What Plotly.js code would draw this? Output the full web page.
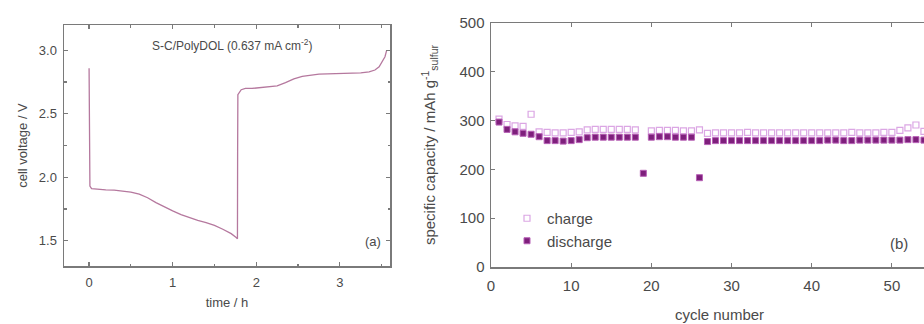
<!DOCTYPE html>
<html>
<head>
<meta charset="utf-8">
<script src="https://cdn.plot.ly/plotly-3.0.1.min.js"></script>
<style>
html,body{margin:0;padding:0;overflow:hidden;background:#fff;width:924px;height:324px;}
#chart{width:956px;height:324px;}
</style>
</head>
<body>
<div id="chart"></div>
<script>
// Panel (a): cell voltage vs time
const timeH = [0, 0.003, 0.006, 0.01, 0.03, 0.1, 0.2, 0.3, 0.4, 0.5, 0.6, 0.7, 0.8, 0.9, 1.0, 1.1, 1.2, 1.3, 1.4, 1.5, 1.6, 1.7, 1.76, 1.775, 1.777, 1.78, 1.82, 1.87, 1.95, 2.05, 2.15, 2.25, 2.35, 2.45, 2.55, 2.65, 2.75, 2.85, 2.95, 3.05, 3.15, 3.25, 3.35, 3.42, 3.47, 3.51, 3.54, 3.56];
const voltage = [2.86, 2.45, 2.1, 1.93, 1.91, 1.905, 1.90, 1.898, 1.892, 1.883, 1.866, 1.838, 1.80, 1.765, 1.735, 1.705, 1.68, 1.66, 1.642, 1.62, 1.59, 1.555, 1.525, 1.515, 2.2, 2.65, 2.69, 2.70, 2.70, 2.705, 2.71, 2.72, 2.745, 2.775, 2.795, 2.805, 2.812, 2.815, 2.817, 2.818, 2.82, 2.822, 2.83, 2.845, 2.87, 2.91, 2.95, 3.0];

// Panel (b): specific capacity vs cycle number
const cycles = [1,2,3,4,5,6,7,8,9,10,11,12,13,14,15,16,17,18,19,20,21,22,23,24,25,26,27,28,29,30,31,32,33,34,35,36,37,38,39,40,41,42,43,44,45,46,47,48,49,50,51,52,53,54];
const chargeCap = [303,292,289,288,313,277,276,275,275,276,277,281,282,282,282,282,282,281,null,279,280,280,280,279,279,281,274,275,275,275,275,276,275,275,275,275,275,275,275,275,275,275,275,275,276,275,275,275,276,276,280,285,291,278];
const dischargeCap = [297,282,277,274,272,267,259,259,258,259,261,265,266,266,266,266,266,266,192,266,267,267,266,266,266,183,257,259,259,259,259,259,259,259,259,259,259,259,259,259,259,260,260,259,259,260,260,260,260,260,260,261,261,260];

const textColor = '#4a4a4a';
const axisColor = '#7a7a7a';
const FONT = 'Liberation Sans, Arial, sans-serif';
const W = 956, H = 324;
const px = v => v / W;
const py = v => 1 - v / H;

const traces = [
  {x: timeH, y: voltage, type: 'scatter', mode: 'lines', xaxis: 'x', yaxis: 'y',
   line: {color: '#b5789e', width: 1.3}, showlegend: false, hoverinfo: 'skip'},
  {x: cycles, y: chargeCap, type: 'scatter', mode: 'markers', xaxis: 'x2', yaxis: 'y2', name: 'charge',
   marker: {symbol: 'square-open', size: 6, color: '#dba6e4', line: {width: 1.2, color: '#dba6e4'}}},
  {x: cycles, y: dischargeCap, type: 'scatter', mode: 'markers', xaxis: 'x2', yaxis: 'y2', name: 'discharge',
   marker: {symbol: 'square', size: 6, color: '#7e1f7c', line: {width: 1, color: '#b760b6'}}}
];

const axBase = {
  showline: true, linecolor: axisColor, linewidth: 1.5, mirror: 'ticks',
  ticks: 'inside', ticklen: 4, tickwidth: 1.2, tickcolor: axisColor,
  showgrid: false, zeroline: false,
  tickfont: {family: FONT, size: 13, color: textColor}
};

const layout = {
  width: W, height: H,
  margin: {l: 0, r: 0, t: 0, b: 0},
  paper_bgcolor: '#fff', plot_bgcolor: '#fff',
  font: {family: FONT, color: textColor},
  showlegend: true,
  legend: {x: px(507), y: py(202), xanchor: 'left', yanchor: 'top', bgcolor: 'rgba(0,0,0,0)',
           font: {family: FONT, size: 15, color: textColor}, tracegroupgap: 0, itemwidth: 30},
  xaxis: Object.assign({}, axBase, {
    domain: [px(64), px(390)], range: [-0.3, 3.6], anchor: 'y',
    tickvals: [0, 1, 2, 3], ticktext: ['0', '1', '2', '3'],
    minor: {dtick: 0.5, tick0: 0, ticks: 'inside', ticklen: 2.5, tickcolor: axisColor},
    ticklabelstandoff: 4,
    title: {text: 'time / h', font: {family: FONT, size: 13, color: textColor}, standoff: 9}
  }),
  yaxis: Object.assign({}, axBase, {
    domain: [py(266), py(25)], range: [1.3, 3.2], anchor: 'x',
    tickvals: [1.5, 2.0, 2.5, 3.0], ticktext: ['1.5', '2.0', '2.5', '3.0'],
    minor: {dtick: 0.25, tick0: 0, ticks: 'inside', ticklen: 2.5, tickcolor: axisColor},
    ticklabelstandoff: 3,
    title: {text: 'cell voltage / V', font: {family: FONT, size: 13, color: textColor}, standoff: 8}
  }),
  xaxis2: Object.assign({}, axBase, {
    domain: [px(491), px(948)], range: [0, 57], anchor: 'y2',
    tickvals: [0, 10, 20, 30, 40, 50],
    tickfont: {family: FONT, size: 15, color: textColor},
    ticklabelstandoff: 4,
    title: {text: 'cycle number', font: {family: FONT, size: 15, color: textColor}, standoff: 17}
  }),
  yaxis2: Object.assign({}, axBase, {
    domain: [py(267), py(23)], range: [0, 500], anchor: 'x2',
    tickvals: [0, 100, 200, 300, 400, 500],
    tickfont: {family: FONT, size: 15, color: textColor},
    ticklabelstandoff: 2,
    title: {text: 'specific capacity / mAh g<sup>-1</sup><sub>sulfur</sub>', font: {family: FONT, size: 15, color: textColor}, standoff: 20}
  }),
  annotations: [
    {xref: 'paper', yref: 'paper', x: px(232), y: py(45), xanchor: 'center', yanchor: 'middle',
     text: 'S-C/PolyDOL (0.637 mA cm<sup>-2</sup>)',
     showarrow: false, font: {family: FONT, size: 12, color: textColor}},
    {xref: 'paper', yref: 'paper', x: px(373), y: py(241), xanchor: 'center', yanchor: 'middle',
     text: '(a)', showarrow: false, font: {family: FONT, size: 13, color: textColor}},
    {xref: 'paper', yref: 'paper', x: px(899), y: py(243), xanchor: 'center', yanchor: 'middle',
     text: '(b)', showarrow: false, font: {family: FONT, size: 15, color: textColor}}
  ]
};

Plotly.newPlot('chart', traces, layout, {displayModeBar: false, staticPlot: true});
</script>
</body>
</html>
